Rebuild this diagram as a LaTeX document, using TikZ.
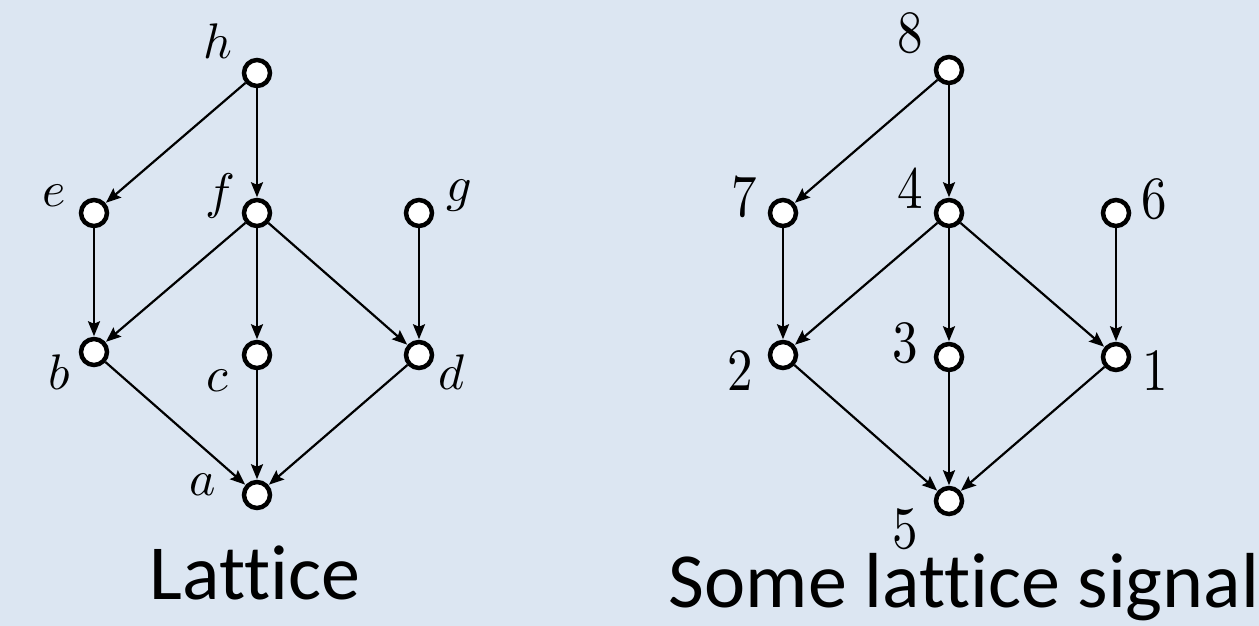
\documentclass[tikz,border=0pt]{standalone}
\usepackage{fontspec}
\usepackage{graphicx}
\newfontfamily\capfont[Ligatures=NoCommon]{Carlito}
\usetikzlibrary{arrows.meta}
\definecolor{bgblue}{HTML}{DCE6F2}
\newcommand{\biglbl}[1]{\scalebox{5}{$#1$}}
\newcommand{\bignum}[1]{\scalebox{5.1}[6]{$#1$}}
\tikzset{
  vtx/.style={circle,draw=black,fill=white,line width=4.5pt,minimum size=26pt,inner sep=0pt},
  edge/.style={line width=2.2pt,-{Stealth[length=15pt,width=12pt,inset=2.5pt]},shorten >=0.5pt},
  lbl/.style={inner sep=0pt},
  captiontext/.style={inner sep=0pt,anchor=base,font=\capfont\fontsize{78}{92}\selectfont}
}
\begin{document}
\begin{tikzpicture}[x=1pt,y=-1pt]
\fill[bgblue] (0,0) rectangle (1259,626);
\useasboundingbox (0,0) rectangle (1259,626);
% left lattice
\node[vtx] (h) at (257,73) {};
\node[vtx] (e) at (94,213) {};
\node[vtx] (f) at (257,213) {};
\node[vtx] (g) at (419,213) {};
\node[vtx] (b) at (94,352) {};
\node[vtx] (c) at (257,355) {};
\node[vtx] (d) at (419,355) {};
\node[vtx] (a) at (257,495) {};
\node[lbl] (lh) at (218,41) {\biglbl{h}};
\node[lbl] (le) at (54,196) {\biglbl{e}};
\node[lbl] (lf) at (220,196) {\biglbl{f}};
\node[lbl] (lg) at (459,196) {\biglbl{g}};
\node[lbl] (lb) at (59,372) {\biglbl{b}};
\node[lbl] (lc) at (217,381) {\biglbl{c}};
\node[lbl] (ld) at (452,372) {\biglbl{d}};
\node[lbl] (la) at (203,485) {\biglbl{a}};
\foreach \s/\t in {h/e,h/f,e/b,f/b,f/c,f/d,g/d,b/a,c/a,d/a}
  \draw[edge] (\s) -- (\t);
\node[captiontext] (capL) at (255,599) {Lattice};
% right signal
\node[vtx] (n8) at (949,70) {};
\node[vtx] (n7) at (783,213) {};
\node[vtx] (n4) at (949,213) {};
\node[vtx] (n6) at (1116,213) {};
\node[vtx] (n2) at (783,355) {};
\node[vtx] (n3) at (949,357) {};
\node[vtx] (n1) at (1116,357) {};
\node[vtx] (n5) at (949,501) {};
\node[lbl] (l8) at (910,33) {\bignum{8}};
\node[lbl] (l7) at (744,197) {\bignum{7}};
\node[lbl] (l4) at (910,189) {\bignum{4}};
\node[lbl] (l6) at (1154,199) {\bignum{6}};
\node[lbl] (l2) at (740,371) {\bignum{2}};
\node[lbl] (l3) at (905,343) {\bignum{3}};
\node[lbl] (l1) at (1155,371) {\bignum{1}};
\node[lbl] (l5) at (905,529) {\bignum{5}};
\foreach \s/\t in {n8/n7,n8/n4,n7/n2,n4/n2,n4/n3,n4/n1,n6/n1,n2/n5,n3/n5,n1/n5}
  \draw[edge] (\s) -- (\t);
\node[captiontext] (capR) at (964,607) {Some lattice signal};
\end{tikzpicture}
\end{document}
